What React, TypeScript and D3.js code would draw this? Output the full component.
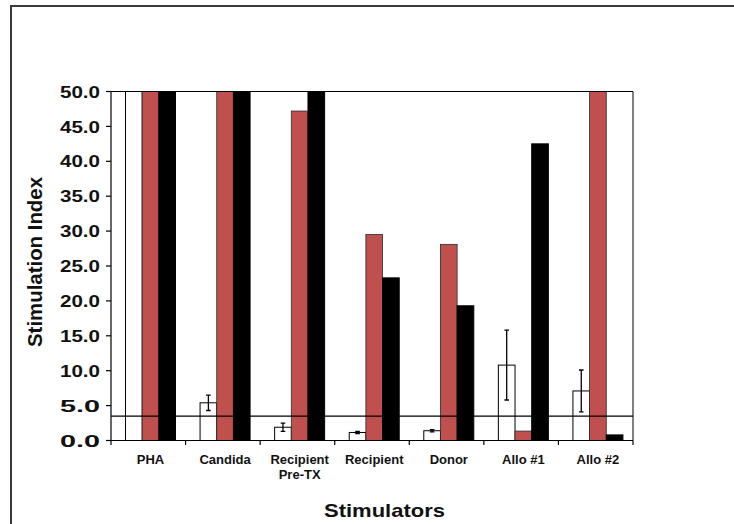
import React from "react";
import * as d3 from "d3";

// stimulators on the x axis (second line where the label wraps)
const categories = ["PHA", "Candida", "Recipient Pre-TX", "Recipient", "Donor", "Allo #1", "Allo #2"];
const labelLines = [["PHA"], ["Candida"], ["Recipient", "Pre-TX"], ["Recipient"], ["Donor"], ["Allo #1"], ["Allo #2"]];
const series = ["white", "red", "black"];

// stimulation index per series (values above 50 run off the top of the axis)
const whiteValues = [55, 5.4, 1.9, 1.15, 1.4, 10.8, 7.1];
const whiteErrors = [0, 1.1, 0.6, 0.15, 0.15, 5.0, 3.0];
const redValues = [60, 60, 47.2, 29.5, 28.1, 1.35, 60];
const blackValues = [60, 60, 60, 23.3, 19.3, 42.5, 0.8];

const threshold = 3.5;
const yTicks = [0, 5, 10, 15, 20, 25, 30, 35, 40, 45, 50];

const fills: Record<string, string> = { white: "#ffffff", red: "#c0504d", black: "#000000" };
const strokes: Record<string, string> = { white: "#000000", red: "#2a2a2a", black: "#000000" };

export default function App() {
  const width = 734;
  const height = 524;
  const left = 111;
  const right = 633;
  const top = 91.5;
  const bottom = 440.5;

  const x0 = d3.scaleBand<string>().domain(categories).range([left, right]).padding(0);
  const x1 = d3.scaleBand<string>().domain(series).range([14.5, 64.5]).padding(0);
  const y = d3.scaleLinear().domain([0, 50]).range([bottom, top]);
  const fmt = d3.format(".1f");

  const valuesBySeries: Record<string, number[]> = {
    white: whiteValues,
    red: redValues,
    black: blackValues,
  };
  const groupMid = (14.5 + 64.5) / 2;

  return (
    <svg
      width={width}
      height={height}
      style={{ position: "absolute", left: 0, top: 0, background: "#fff" }}
      fontFamily="'Liberation Sans', Arial, sans-serif"
    >
      <defs>
        <clipPath id="plot-clip">
          <rect x={left} y={top} width={right - left} height={bottom - top + 1} />
        </clipPath>
      </defs>

      {/* outer frame */}
      <rect x={11} y={6} width={800} height={600} fill="none" stroke="#3a3a3a" strokeWidth={2} />

      {/* bars */}
      <g clipPath="url(#plot-clip)">
        {categories.map((c, i) =>
          series.map((s) => {
            const v = valuesBySeries[s][i];
            const yv = y(Math.min(v, 52));
            return (
              <rect
                key={c + s}
                x={(x0(c) ?? 0) + (x1(s) ?? 0)}
                y={yv}
                width={x1.bandwidth()}
                height={bottom - yv}
                fill={fills[s]}
                stroke={strokes[s]}
                strokeWidth={s === "red" ? 0.8 : 1}
              />
            );
          })
        )}
        {/* error bars on the white series */}
        {categories.map((c, i) => {
          const v = whiteValues[i];
          const e = whiteErrors[i];
          if (v > 50 || !e) return null;
          const cx = (x0(c) ?? 0) + (x1("white") ?? 0) + x1.bandwidth() / 2;
          return (
            <g key={"err" + c} stroke="#000" strokeWidth={1.3}>
              <line x1={cx} x2={cx} y1={y(v + e)} y2={y(v - e)} />
              <line x1={cx - 2.3} x2={cx + 2.3} y1={y(v + e)} y2={y(v + e)} />
              <line x1={cx - 2.3} x2={cx + 2.3} y1={y(v - e)} y2={y(v - e)} />
            </g>
          );
        })}
      </g>

      {/* threshold line */}
      <line x1={left} x2={right} y1={y(threshold)} y2={y(threshold)} stroke="#000" strokeWidth={1.2} />

      {/* plot box */}
      <line x1={left} x2={right} y1={top} y2={top} stroke="#000" strokeWidth={1} />
      <line x1={right} x2={right} y1={top} y2={bottom} stroke="#000" strokeWidth={1} />
      <line x1={left} x2={left} y1={top} y2={bottom} stroke="#000" strokeWidth={1.2} />
      <line x1={left} x2={right} y1={bottom} y2={bottom} stroke="#000" strokeWidth={1.2} />

      {/* y ticks and labels */}
      {yTicks.map((t) => (
        <g key={"yt" + t}>
          <line x1={left - 5} x2={left} y1={y(t)} y2={y(t)} stroke="#000" strokeWidth={1.2} />
          <text
            x={100}
            y={y(t)}
            dy="0.36em"
            textAnchor="end"
            fontSize={17}
            fontWeight="bold"
            textLength={40}
            lengthAdjust="spacingAndGlyphs"
            fill="#111"
          >
            {fmt(t)}
          </text>
        </g>
      ))}

      {/* x ticks at band boundaries */}
      {categories.map((c, i) => (
        <line
          key={"xt" + c}
          x1={(x0(c) ?? 0) + (i === 0 ? 0 : 0)}
          x2={x0(c) ?? 0}
          y1={bottom}
          y2={bottom + 4.5}
          stroke="#000"
          strokeWidth={1.2}
        />
      ))}
      <line x1={right} x2={right} y1={bottom} y2={bottom + 4.5} stroke="#000" strokeWidth={1.2} />

      {/* x labels */}
      {categories.map((c, i) => (
        <text
          key={"xl" + c}
          x={(x0(c) ?? 0) + groupMid}
          y={463.5}
          textAnchor="middle"
          fontSize={13}
          fontWeight="bold"
          fill="#111"
        >
          {labelLines[i].map((line, k) => (
            <tspan key={k} x={(x0(c) ?? 0) + groupMid} dy={k === 0 ? 0 : 15}>
              {line}
            </tspan>
          ))}
        </text>
      ))}

      {/* axis titles */}
      <text
        x={384.5}
        y={516.5}
        textAnchor="middle"
        fontSize={19}
        fontWeight="bold"
        textLength={121}
        lengthAdjust="spacingAndGlyphs"
        fill="#111"
      >
        Stimulators
      </text>
      <text
        transform={`translate(41.5, 262) rotate(-90)`}
        textAnchor="middle"
        fontSize={20}
        fontWeight="bold"
        textLength={170}
        lengthAdjust="spacingAndGlyphs"
        fill="#111"
      >
        Stimulation Index
      </text>
    </svg>
  );
}
